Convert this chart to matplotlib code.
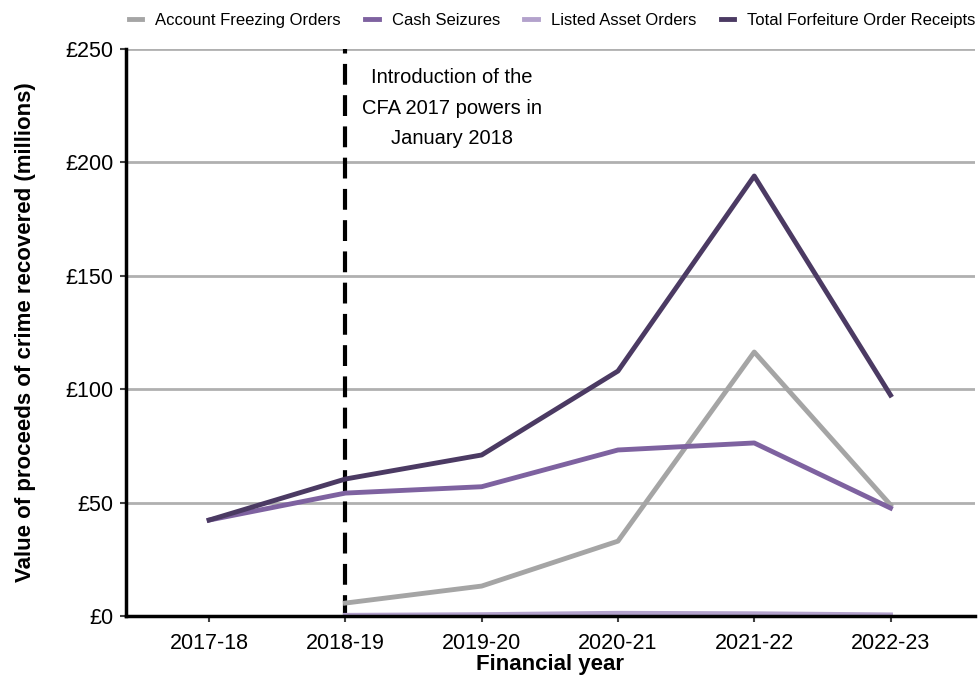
import matplotlib.pyplot as plt
import numpy as np

plt.rcParams['font.family'] = ['Liberation Sans', 'DejaVu Sans']

years = ["2017-18", "2018-19", "2019-20", "2020-21", "2021-22", "2022-23"]
afo = [np.nan, 5.7, 13.2, 33.0, 116.4, 49.0]
cash = [42.3, 54.2, 57.0, 73.2, 76.3, 47.6]
listed = [np.nan, 0.3, 0.6, 1.2, 1.0, 0.5]
total = [42.3, 60.4, 71.0, 108.0, 194.0, 97.4]

x = np.arange(len(years))

fig = plt.figure(figsize=(9.79, 6.77), dpi=100)
ax = fig.add_axes([126 / 979, 61 / 677, 849 / 979, 567 / 677])

ax.plot(x, afo, color="#A5A5A5", lw=3.5, label="Account Freezing Orders")
ax.plot(x, cash, color="#7E62A0", lw=3.5, label="Cash Seizures")
ax.plot(x, listed, color="#B3A2CC", lw=3.5, label="Listed Asset Orders")
ax.plot(x, total, color="#4B3A63", lw=3.5, label="Total Forfeiture Order Receipts")

# CFA 2017 introduction marker
ax.axvline(1, color="black", lw=3, ls=(0, (5, 2.5)), zorder=1)
ax.text(1.78, 241.5, "Introduction of the\nCFA 2017 powers in\nJanuary 2018",
        ha="center", va="top", fontsize=14.5, linespacing=1.75)

ax.set_ylim(0, 250)
ax.set_xlim(-0.61, 5.62)
ax.set_yticks(np.arange(0, 251, 50))
ax.set_yticklabels([f"£{v}" for v in range(0, 251, 50)])
ax.set_xticks(x)
ax.set_xticklabels(years)
ax.tick_params(axis="both", labelsize=15.5, length=4, width=1.5, color="#404040")
ax.tick_params(axis="x", pad=8)
ax.tick_params(axis="y", pad=5)

ax.grid(axis="y", color="#B0B0B0", lw=2)
ax.set_axisbelow(True)
for s in ["top", "right"]:
    ax.spines[s].set_visible(False)
ax.spines["left"].set_linewidth(2.5)
ax.spines["bottom"].set_linewidth(2.5)

ax.set_ylabel("Value of proceeds of crime recovered (millions)", fontsize=16, fontweight="bold")
ax.set_xlabel("Financial year", fontsize=16, fontweight="bold", labelpad=0)
ax.yaxis.set_label_coords(-0.106, 0.5)

ax.legend(loc="center", bbox_to_anchor=(0.502, 1.051), ncol=4, frameon=False,
          fontsize=12, handlelength=0.8, handletextpad=0.8, columnspacing=1.45,
          borderaxespad=0, borderpad=0)

fig.savefig("out.png", dpi=100)
